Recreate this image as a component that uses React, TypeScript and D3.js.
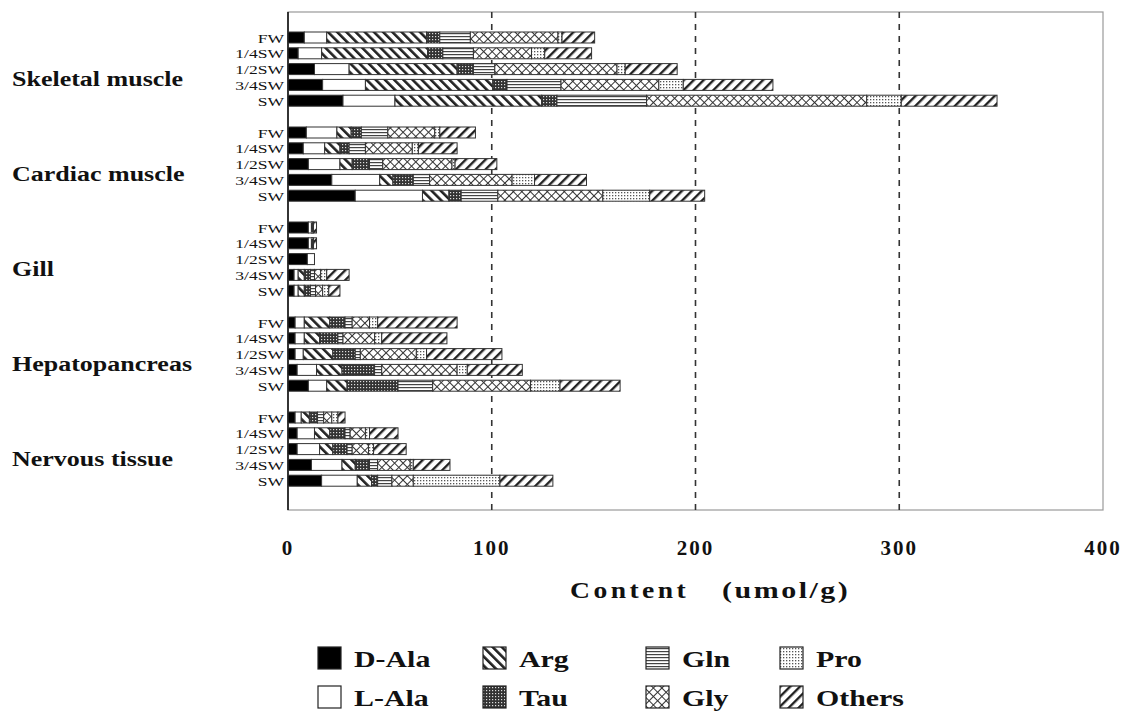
import React from 'react';
import * as d3 from 'd3';

const tissues = ['Skeletal muscle', 'Cardiac muscle', 'Gill', 'Hepatopancreas', 'Nervous tissue'];
const salinities = ['FW', '1/4SW', '1/2SW', '3/4SW', 'SW'];
const aminoAcids = ['D-Ala', 'L-Ala', 'Arg', 'Tau', 'Gln', 'Gly', 'Pro', 'Others'];

// umol/g, tissue by tissue, FW .. SW inside each tissue
const dAla = [8, 5, 13, 17, 27, 9, 7.5, 10, 21.5, 33, 10, 10, 9.5, 3, 3, 3.5, 3.5, 3.5, 4.5, 10, 3.5, 4.5, 4.5, 11.5, 16.5];
const lAla = [11, 11.5, 17, 21, 25.5, 15, 10.5, 15.5, 23.5, 33, 1.5, 1.5, 3.5, 2, 2, 4.5, 4.5, 4, 9.5, 9, 3, 8.5, 11, 15, 17.5];
const arg = [49, 52, 53, 62.5, 72, 7, 7.5, 6, 6.5, 13, 0.5, 0.5, 0, 3, 3, 12.5, 7.5, 14.5, 12.5, 10, 4, 7.5, 6.5, 6.5, 7];
const tau = [6.5, 7.5, 8, 7, 7.5, 5, 4.5, 8.5, 10, 6, 0, 0, 0, 3, 3, 7.5, 9, 11, 16, 25, 4, 7.5, 7, 7, 3];
const gln = [15, 15, 10.5, 26.5, 44, 13, 8, 6.5, 8, 18, 0, 0, 0, 2, 2.5, 3.5, 2.5, 2.5, 3.5, 17, 3, 2.5, 2.5, 4, 7];
const gly = [43, 28.5, 60, 48, 108, 23, 23, 34, 40.5, 51.5, 0.5, 0.5, 0, 3, 3.5, 8.5, 15.5, 27.5, 37, 48, 4, 7.5, 8, 16, 10.5];
const pro = [2, 6.5, 4, 12, 17, 2.5, 3, 1.5, 11, 23, 0, 0, 0, 3, 3, 4, 3.5, 5, 5, 14.5, 3, 2, 2.5, 1.5, 42.5];
const others = [16, 23, 25.5, 44, 47, 17.5, 19, 20.5, 25.5, 27, 1.5, 1.5, 0, 11, 5.5, 39, 32, 37, 27, 29.5, 3.5, 14, 16, 18, 26];

const xTicks = [0, 100, 200, 300, 400];
const gridTicks = [100, 200, 300];

const FONT = '"Liberation Serif", "DejaVu Serif", serif';

const fills: Record<string, string> = {
  'D-Ala': '#000',
  'L-Ala': '#fff',
  Arg: 'url(#pArg)',
  Tau: 'url(#pTau)',
  Gln: 'url(#pGln)',
  Gly: 'url(#pGly)',
  Pro: 'url(#pPro)',
  Others: 'url(#pOth)',
};

export default function App() {
  const width = 1128;
  const height = 713;
  const plot = { left: 288, right: 1103, top: 12, bottom: 510 };

  const x = d3.scaleLinear().domain([0, 400]).range([plot.left, plot.right]);
  const yGroup = d3.scaleBand<string>().domain(tissues).range([22, 497]);
  const yRow = d3.scalePoint<string>().domain(salinities).range([15.5, 78.7]);
  const barH = 11;

  const columns = [dAla, lAla, arg, tau, gln, gly, pro, others];
  const table = tissues.flatMap((t, ti) =>
    salinities.map((s, si) => {
      const row: Record<string, any> = { tissue: t, salinity: s };
      aminoAcids.forEach((a, ai) => (row[a] = columns[ai][ti * 5 + si]));
      return row;
    })
  );
  const series = d3.stack<Record<string, any>>().keys(aminoAcids)(table);

  const rowY = (d: Record<string, any>) => (yGroup(d.tissue) as number) + (yRow(d.salinity) as number);

  const legendCols = [318, 483, 646, 780];
  const legendRows = [647, 686];

  return (
    <svg width={width} height={height} style={{ position: 'absolute', left: 0, top: 0, background: '#fff' }}>
      <defs>
        <pattern id="pArg" width="6.5" height="6.5" patternUnits="userSpaceOnUse" patternTransform="rotate(-45)">
          <rect width="6.5" height="6.5" fill="#fff" />
          <rect width="2.6" height="6.5" fill="#222" />
        </pattern>
        <pattern id="pOth" width="7" height="7" patternUnits="userSpaceOnUse" patternTransform="rotate(45)">
          <rect width="7" height="7" fill="#fff" />
          <rect width="2.4" height="7" fill="#222" />
        </pattern>
        <pattern id="pTau" width="3" height="3" patternUnits="userSpaceOnUse">
          <rect width="3" height="3" fill="#333" />
          <rect width="1.2" height="1.2" fill="#ddd" />
        </pattern>
        <pattern id="pGln" width="4" height="3" patternUnits="userSpaceOnUse">
          <rect width="4" height="3" fill="#fff" />
          <rect width="4" height="1.2" fill="#444" />
        </pattern>
        <pattern id="pGly" width="6" height="6" patternUnits="userSpaceOnUse" patternTransform="rotate(45)">
          <rect width="6" height="6" fill="#fff" />
          <path d="M0,0 H6 M0,0 V6" stroke="#333" strokeWidth="2" />
        </pattern>
        <pattern id="pPro" width="3" height="3" patternUnits="userSpaceOnUse">
          <rect width="3" height="3" fill="#fff" />
          <rect width="1.3" height="1.3" fill="#555" />
        </pattern>
      </defs>

      {/* plot frame and grid */}
      <rect x={plot.left} y={plot.top} width={plot.right - plot.left} height={plot.bottom - plot.top} fill="none" stroke="#999" strokeWidth="1.2" />
      {gridTicks.map(t => (
        <line key={t} x1={x(t)} x2={x(t)} y1={plot.top} y2={plot.bottom} stroke="#333" strokeWidth="1.6" strokeDasharray="6,6" />
      ))}
      <line x1={plot.left} x2={plot.left} y1={plot.top} y2={plot.bottom} stroke="#111" strokeWidth="1.6" />

      {/* stacked bars */}
      {series.map(s =>
        s.map((d, i) => {
          const w = x(d[1]) - x(d[0]);
          if (w <= 0) return null;
          return (
            <rect
              key={s.key + i}
              x={x(d[0])}
              y={rowY(d.data) - barH / 2}
              width={w}
              height={barH}
              fill={fills[s.key]}
              stroke="#333"
              strokeWidth="1"
            />
          );
        })
      )}

      {/* row labels */}
      {table.map((d, i) => (
        <text
          key={i}
          transform={`translate(284,${rowY(d) + 5}) scale(1.35,1)`}
          textAnchor="end"
          fontFamily={FONT}
          fontSize="13"
          fill="#111"
        >
          {d.salinity}
        </text>
      ))}

      {/* group labels */}
      {tissues.map(t => (
        <text
          key={t}
          transform={`translate(12,${(yGroup(t) as number) + yGroup.bandwidth() / 2 + 16}) scale(1.3,1)`}
          fontFamily={FONT}
          fontWeight="bold"
          fontSize="20"
          fill="#111"
        >
          {t}
        </text>
      ))}

      {/* x tick labels */}
      {xTicks.map(t => (
        <text key={t} x={x(t)} y={555} textAnchor="middle" fontFamily={FONT} fontWeight="bold" fontSize="21" letterSpacing="2" fill="#111">
          {t}
        </text>
      ))}

      {/* axis title */}
      <text transform="translate(570,598) scale(1.15,1)" fontFamily={FONT} fontWeight="bold" fontSize="24" letterSpacing="3" fill="#111">
        Content
      </text>
      <text transform="translate(722,598) scale(1.25,1)" fontFamily={FONT} fontWeight="bold" fontSize="24" letterSpacing="2" fill="#111">
        (umol/g)
      </text>

      {/* legend */}
      {aminoAcids.map((a, i) => {
        const lx = legendCols[Math.floor(i / 2)];
        const ly = legendRows[i % 2];
        return (
          <g key={a}>
            <rect x={lx} y={ly} width={23} height={22} fill={fills[a]} stroke="#222" strokeWidth="1.2" />
            <text transform={`translate(${lx + 36},${ly + 20}) scale(1.3,1)`} fontFamily={FONT} fontWeight="bold" fontSize="23" fill="#111">
              {a}
            </text>
          </g>
        );
      })}
    </svg>
  );
}
